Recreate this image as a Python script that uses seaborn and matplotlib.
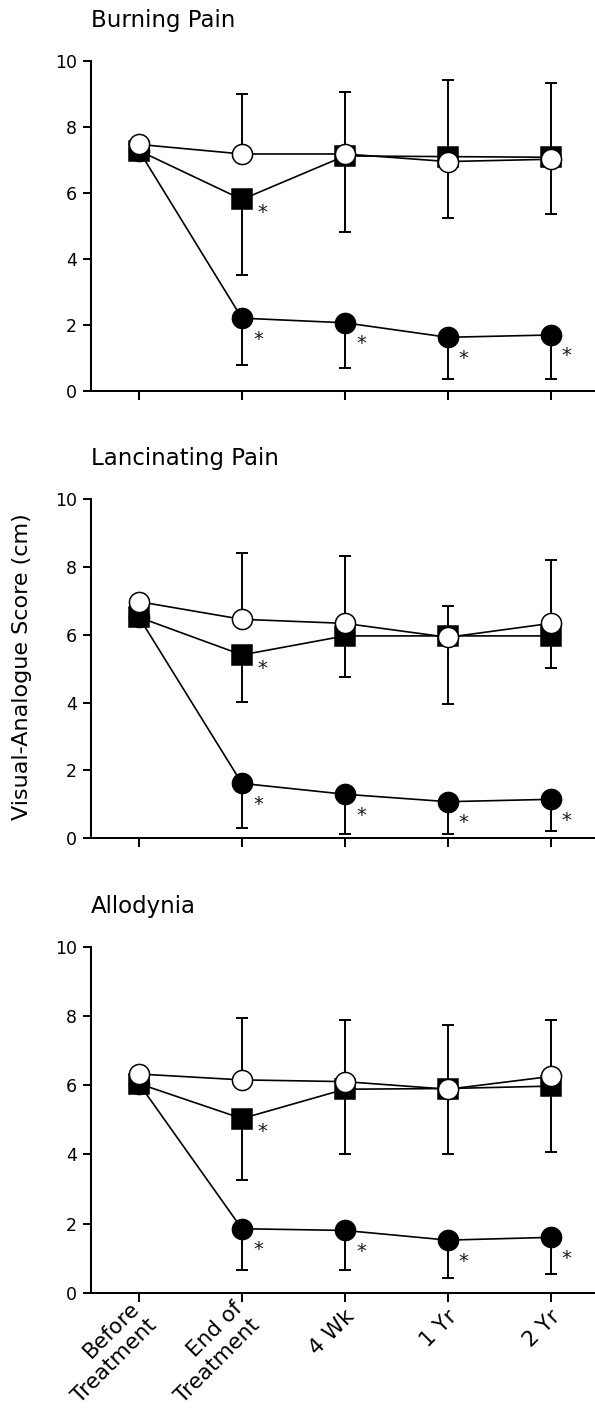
import numpy as np
import pandas as pd
import matplotlib
matplotlib.use("Agg")
import matplotlib.pyplot as plt
import matplotlib.transforms as mtransforms
import seaborn as sns

# ---- data -------------------------------------------------------------
timepoints = ["Before\nTreatment", "End of\nTreatment", "4 Wk", "1 Yr", "2 Yr"]
panel_titles = ["Burning Pain", "Lancinating Pain", "Allodynia"]
y_label = "Visual-Analogue Score (cm)"
y_ticks = [0, 2, 4, 6, 8, 10]

nan = np.nan

# open circles (SD drawn upward)
open_mean = [
    [7.47, 7.18, 7.18, 6.95, 7.02],
    [6.98, 6.46, 6.34, 5.93, 6.34],
    [6.33, 6.16, 6.11, 5.89, 6.26],
]
open_sd = [
    [nan, 1.81, 1.89, 2.47, 2.31],
    [nan, 1.97, 2.00, 0.92, 1.87],
    [nan, 1.78, 1.78, 1.85, 1.63],
]

# filled squares (SD drawn downward)
square_mean = [
    [7.28, 5.80, 7.12, 7.10, 7.08],
    [6.52, 5.41, 5.97, 5.97, 5.97],
    [6.05, 5.04, 5.89, 5.91, 5.98],
]
square_sd = [
    [nan, 2.29, 2.32, 1.87, 1.72],
    [nan, 1.39, 1.22, 2.01, 0.94],
    [nan, 1.78, 1.89, 1.91, 1.92],
]
square_sig = [False, True, False, False, False]

# filled circles (SD drawn downward)
solid_mean = [
    [7.28, 2.20, 2.06, 1.62, 1.69],
    [6.52, 1.62, 1.30, 1.08, 1.15],
    [6.05, 1.85, 1.80, 1.52, 1.60],
]
solid_sd = [
    [nan, 1.42, 1.36, 1.28, 1.35],
    [nan, 1.33, 1.17, 0.95, 0.92],
    [nan, 1.19, 1.14, 1.11, 1.06],
]
solid_sig = [False, True, True, True, True]

# ---- style ------------------------------------------------------------
sns.set_style("ticks")
plt.rcParams["font.family"] = ["DejaVu Sans"]
plt.rcParams["axes.linewidth"] = 1.45
for key in ("text.color", "axes.labelcolor", "xtick.color", "ytick.color",
            "axes.edgecolor"):
    plt.rcParams[key] = "black"

W, H = 595, 1416
fig = plt.figure(figsize=(W / 100, H / 100), dpi=100)

# axes frames in pixels: left, top (y=10), bottom (y=0)
frames = [(90.7, 61.0, 390.7), (90.7, 499.3, 838.3), (90.7, 947.3, 1292.6)]
x_left, x_right = -0.469, 4.43

LW = 1.2
MS = 14.5
MEW = 1.1


def draw_series(ax, x, mean, sd, upward, marker, face, z):
    df = pd.DataFrame({"x": x, "y": mean})
    yerr = np.array(sd, dtype=float)
    if upward:
        err = [np.zeros_like(yerr), yerr]
    else:
        err = [yerr, np.zeros_like(yerr)]
    ax.errorbar(x, mean, yerr=err, fmt="none", ecolor="black",
                elinewidth=1.4, capsize=4.6, capthick=1.4, zorder=1.5)
    sns.lineplot(data=df, x="x", y="y", ax=ax, color="black", lw=LW,
                 marker=marker, markersize=MS, markerfacecolor=face,
                 markeredgecolor="black", markeredgewidth=MEW,
                 errorbar=None, sort=False, zorder=z)


def star(ax, x, y, dx, dy):
    ax.annotate("*", xy=(x, y), xytext=(dx, dy), textcoords="offset points",
                ha="center", va="baseline", fontsize=14, color="#1a1a1a",
                zorder=10)


x = np.arange(len(timepoints))
for i, (l, t, b) in enumerate(frames):
    ax = fig.add_axes([l / W, 1 - b / H, (W - l) / W, (b - t) / H])

    draw_series(ax, x, solid_mean[i], solid_sd[i], False, "o", "black", 3)
    draw_series(ax, x, square_mean[i], square_sd[i], False, "s", "black", 4)
    draw_series(ax, x, open_mean[i], open_sd[i], True, "o", "white", 5)

    for k in range(len(timepoints)):
        if square_sig[k]:
            star(ax, x[k], square_mean[i][k], 14.4, -13.5)
        if solid_sig[k]:
            star(ax, x[k], solid_mean[i][k], 11.5, -19.0)

    ax.set_xlim(x_left, x_right)
    ax.set_ylim(0, 10)
    ax.set_yticks(y_ticks)
    ax.set_xticks(x)
    ax.set_xlabel("")
    ax.set_ylabel("")
    sns.despine(ax=ax)
    for s in ("left", "bottom"):
        ax.spines[s].set_linewidth(1.45)
    ax.tick_params(axis="y", length=5.8, width=1.45, labelsize=12.5, pad=4)
    ax.tick_params(axis="x", length=6.7, width=1.45, labelsize=15.5, pad=8.4)

    if i == len(frames) - 1:
        ax.set_xticklabels(timepoints, rotation=45, ha="right", va="center",
                           rotation_mode="anchor", multialignment="right",
                           linespacing=1.25)
        shift = mtransforms.ScaledTranslation(6 / 100, 0, fig.dpi_scale_trans)
        for lab in ax.get_xticklabels():
            lab.set_transform(lab.get_transform() + shift)
    else:
        ax.set_xticklabels([])

    ax.annotate(panel_titles[i], xy=(0, 1), xycoords="axes fraction",
                xytext=(0, 24.5), textcoords="offset points",
                ha="left", va="baseline", fontsize=16.5)

fig.text(22 / W, 1 - 667 / H, y_label, rotation=90, ha="center",
         va="center", fontsize=16)

fig.savefig("out.png", dpi=100)
